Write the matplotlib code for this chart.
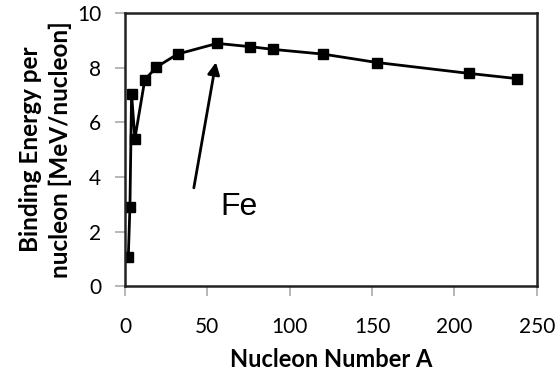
import matplotlib
matplotlib.use("Agg")
import matplotlib.pyplot as plt

A = [2, 3, 4, 6, 12, 19, 32, 56, 76, 90, 120, 153, 209, 238]
E = [1.05, 2.9, 7.05, 5.4, 7.55, 8.02, 8.5, 8.89, 8.77, 8.67, 8.5, 8.19, 7.79, 7.6]
xticks = [0, 50, 100, 150, 200, 250]
yticks = [0, 2, 4, 6, 8, 10]

plt.rcParams['font.family'] = ['Lato', 'DejaVu Sans']
fig = plt.figure(figsize=(5.58, 3.74), dpi=100)
ax = fig.add_axes([0.224, 0.235, 0.738, 0.73])
ax.plot(A, E, color='black', lw=2, marker='s', ms=7)
ax.set_xlim(0, 250)
ax.set_ylim(0, 10)
ax.set_xticks(xticks)
ax.set_yticks(yticks)
ax.tick_params(direction='out', length=7, width=1.2, color='#aaaaaa', labelsize=15)
ax.tick_params(axis='x', pad=15)
ax.tick_params(axis='y', pad=10)
for s in ax.spines.values():
    s.set_linewidth(1.8)
    s.set_color('#222222')
ax.set_xlabel('Nucleon Number A', fontsize=17, fontweight='bold', labelpad=8)
ax.set_ylabel('Binding Energy per\nnucleon [MeV/nucleon]', fontsize=17.5, fontweight='bold',
              labelpad=4, linespacing=1.3, multialignment='center')
ax.annotate('', xy=(55.5, 8.3), xytext=(41.5, 3.5),
            arrowprops=dict(arrowstyle='-|>', color='black', lw=2, mutation_scale=18))
ax.text(69.5, 2.9, 'Fe', fontsize=23, ha='center', va='center', family=['Liberation Sans', 'DejaVu Sans'])
fig.savefig('out.png', dpi=100)
